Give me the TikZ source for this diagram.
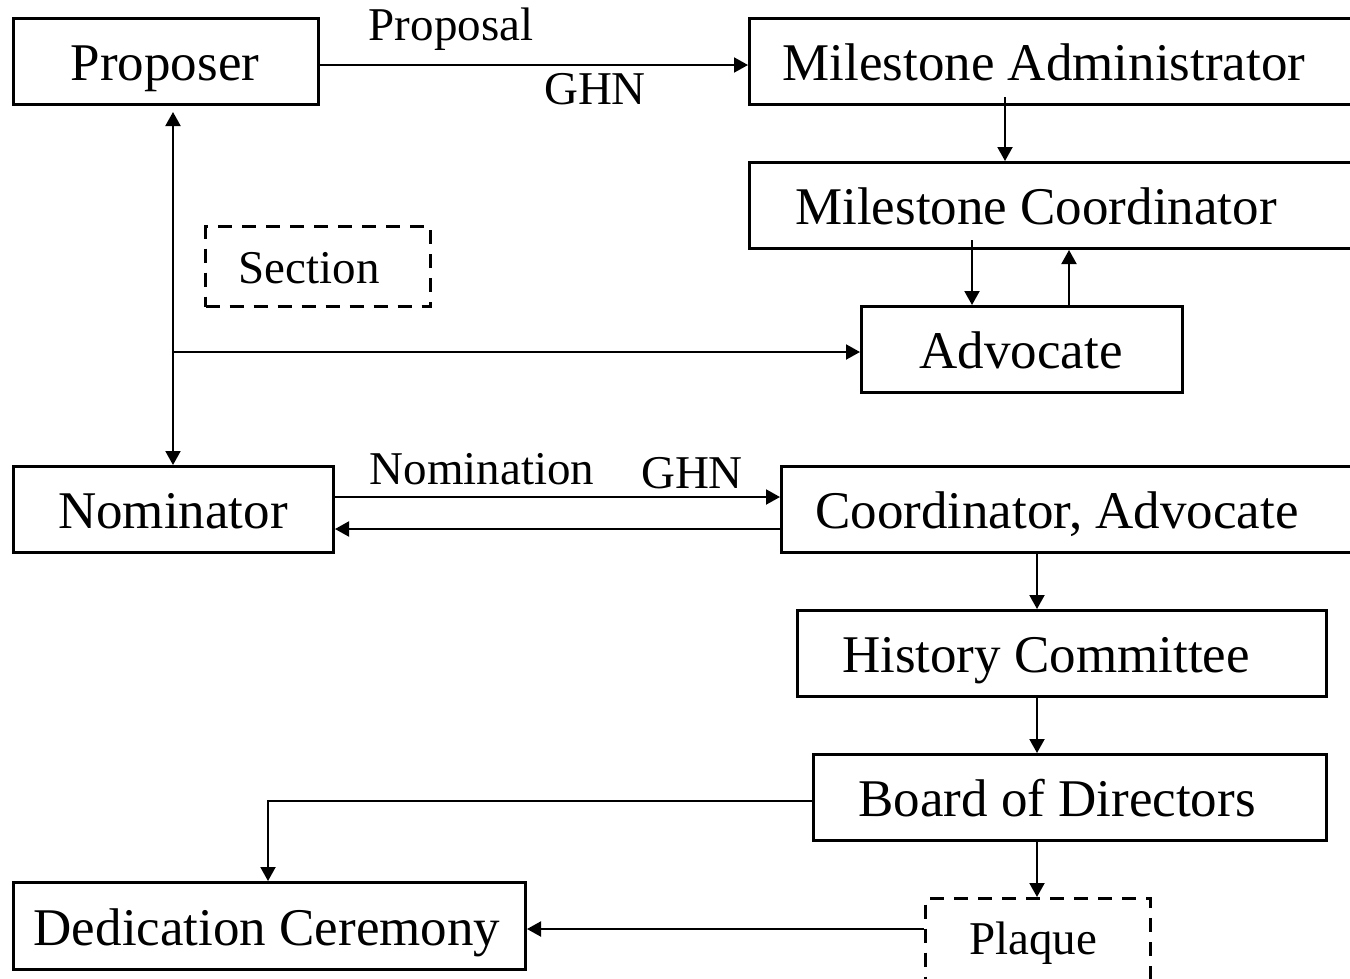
\documentclass[tikz,border=0pt]{standalone}
\usepackage{fontspec}
\setmainfont{Liberation Serif}
\usetikzlibrary{arrows.meta}
\tikzset{
  box/.style={draw, line width=3pt, anchor=north west, inner sep=0pt},
  dbox/.style={box, dash pattern=on 14pt off 10pt},
  big/.style={anchor=base, inner sep=0pt, font=\fontsize{53}{60}\selectfont},
  small/.style={anchor=base, inner sep=0pt, font=\fontsize{47}{54}\selectfont},
  tip/.tip={Triangle[length=14pt,width=15pt]},
  conn/.style={line width=2pt, -tip},
}
\begin{document}
\begin{tikzpicture}[x=1pt,y=-1pt]
\useasboundingbox (0,0) rectangle (1350,978);
\clip (0,0) rectangle (1350,978);
\fill[white] (0,0) rectangle (1350,978);
% boxes
\node[box, minimum width=305pt, minimum height=86pt] (prop) at (12,17) {};
\node[box, minimum width=700pt, minimum height=86pt] (ma) at (748,17) {};
\node[box, minimum width=700pt, minimum height=86pt] (mc) at (748,161) {};
\node[dbox, minimum width=225pt, minimum height=80pt] (sec) at (204,225) {};
\node[box, minimum width=321pt, minimum height=86pt] (adv) at (860,305) {};
\node[box, minimum width=320pt, minimum height=86pt] (nom) at (12,465) {};
\node[box, minimum width=700pt, minimum height=86pt] (ca) at (780,465) {};
\node[box, minimum width=529pt, minimum height=86pt] (hc) at (796,609) {};
\node[box, minimum width=513pt, minimum height=86pt] (bod) at (812,753) {};
\node[box, minimum width=512pt, minimum height=87pt] (ded) at (12,881) {};
\node[dbox, minimum width=225pt, minimum height=120pt] (plq) at (924,897) {};
% texts
\node[big] (propt) at (165,80) {Proposer};
\node[big] (mat) at (1044,80) {Milestone Administrator};
\node[big] (mct) at (1036,224) {Milestone Coordinator};
\node[small] (sect) at (309,283) {Section};
\node[big] (advt) at (1021,368) {Advocate};
\node[big] (nomt) at (173,528) {Nominator};
\node[big] (cat) at (1057,528) {Coordinator, Advocate};
\node[big] (hct) at (1046,672) {History Committee};
\node[big] (bodt) at (1057,816) {Board of Directors};
\node[big] (dedt) at (267,945) {Dedication Ceremony};
\node[small] (plqt) at (1033,954) {Plaque};
\node[small] (l1) at (451,40) {Proposal};
\node[small] (l2) at (595,104) {GHN};
\node[small] (l3) at (482,484) {Nomination};
\node[small] (l4) at (692,488) {GHN};
% connectors
\draw[conn] (prop.east |- 0,65) -- (ma.west |- 0,65);
\draw[conn] (1005,97) -- (mc.north -| 1005,0);
\draw[conn] (972,240) -- (adv.north -| 972,0);
\draw[conn] (adv.north -| 1069,0) -- (mc.south -| 1069,0);
\coordinate (ptop) at (173,112);
\draw[conn, tip-tip] (ptop) -- (nom.north -| ptop);
\draw[conn] (173,352) -- (adv.west |- 0,352);
\draw[conn] (nom.east |- 0,497) -- (ca.west |- 0,497);
\draw[conn] (ca.west |- 0,529) -- (nom.east |- 0,529);
\draw[conn] (ca.south -| 1037,0) -- (hc.north -| 1037,0);
\draw[conn] (hc.south -| 1037,0) -- (bod.north -| 1037,0);
\draw[conn] (bod.west |- 0,801) -| (ded.north -| 268,0);
\draw[conn] (bod.south -| 1037,0) -- (plq.north -| 1037,0);
\draw[conn] (plq.west |- 0,929) -- (ded.east |- 0,929);
\end{tikzpicture}
\end{document}
